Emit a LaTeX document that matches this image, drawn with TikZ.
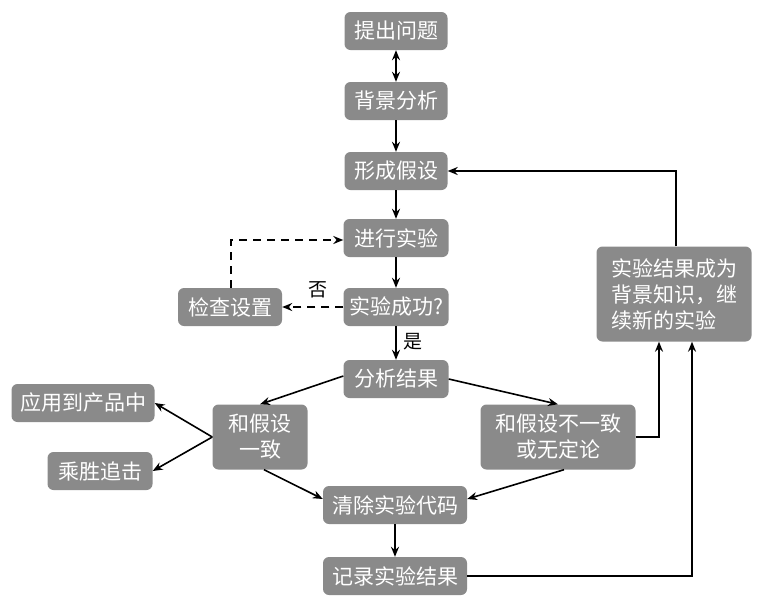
\documentclass[tikz,border=0pt]{standalone}
\usepackage{fontspec}
\newfontfamily\cjk{Noto Sans CJK SC}
\usetikzlibrary{arrows.meta}
\definecolor{boxgray}{RGB}{138,138,138}
\tikzset{
  box/.style={fill=boxgray, rounded corners=6pt, text=white, inner sep=0pt,
    minimum height=38pt, font=\cjk\fontsize{21}{26}\selectfont},
  arr/.style={line width=1.6pt, -{Stealth[length=10pt,width=8pt]}},
  lbl/.style={font=\cjk\fontsize{19}{22}\selectfont, inner sep=0pt}
}
\begin{document}
\begin{tikzpicture}[x=1pt,y=-1pt]
\useasboundingbox (0,0) rectangle (769,603);
\node[box, minimum width=103pt] (q) at (396,31) {提出问题};
\node[box, minimum width=103pt] (bg) at (396,101) {背景分析};
\node[box, minimum width=103pt] (hy) at (396,171) {形成假设};
\node[box, minimum width=105pt] (ex) at (396,238) {进行实验};
\node[box, minimum width=105pt] (ok) at (396,307) {实验成功?};
\node[box, minimum width=104pt] (chk) at (230,307) {检查设置};
\node[box, minimum width=105pt] (an) at (396,379) {分析结果};
\node[box, minimum width=143pt] (app) at (83,403) {应用到产品中};
\node[box, minimum width=105pt] (win) at (100,471) {乘胜追击};
\node[box, minimum width=95pt, minimum height=65pt, align=center] (agree) at (260,437) {和假设\\一致};
\node[box, minimum width=155pt, minimum height=65pt, align=center] (dis) at (558,437) {和假设不一致\\或无定论};
\node[box, minimum width=155pt, minimum height=95pt, align=left] (new) at (674,294) {实验结果成为\\背景知识，继\\续新的实验};
\node[box, minimum width=144pt] (clr) at (395,505) {清除实验代码};
\node[box, minimum width=144pt] (rec) at (395,576) {记录实验结果};

\draw[line width=1.6pt, {Stealth[length=10pt,width=8pt]}-{Stealth[length=10pt,width=8pt]}] (q) -- (bg);
\draw[arr] (bg) -- (hy);
\draw[arr] (hy) -- (ex);
\draw[arr] (ex) -- (ok);
\draw[arr, dashed, dash pattern=on 8pt off 6pt] (ok.west) -- (chk.east);
\draw[arr, dashed, dash pattern=on 8pt off 6pt] ([xshift=1pt]chk.north) |- ([yshift=-2pt]ex.west);
\node[lbl] (no) at (318,290) {否};
\draw[arr] (ok) -- (an);
\node[lbl] (yes) at (413,342) {是};
\draw[arr] ([yshift=3pt]an.west) -- (agree.north);
\draw[arr] (an.east) -- (dis.north);
\draw[arr] (agree.west) -- (app.east);
\draw[arr] (agree.west) -- (win.east);
\draw[arr] ([xshift=4pt]agree.south) -- ([yshift=6pt]clr.west);
\draw[arr] ([xshift=6pt]dis.south) -- ([yshift=6pt]clr.east);
\draw[arr] (clr) -- (rec);
\draw[arr] (dis.east) -| ([xshift=-15pt]new.south);
\draw[arr] (rec.east) -| ([xshift=18pt]new.south);
\draw[arr] ([xshift=2pt]new.north) |- (hy.east);
\end{tikzpicture}
\end{document}
